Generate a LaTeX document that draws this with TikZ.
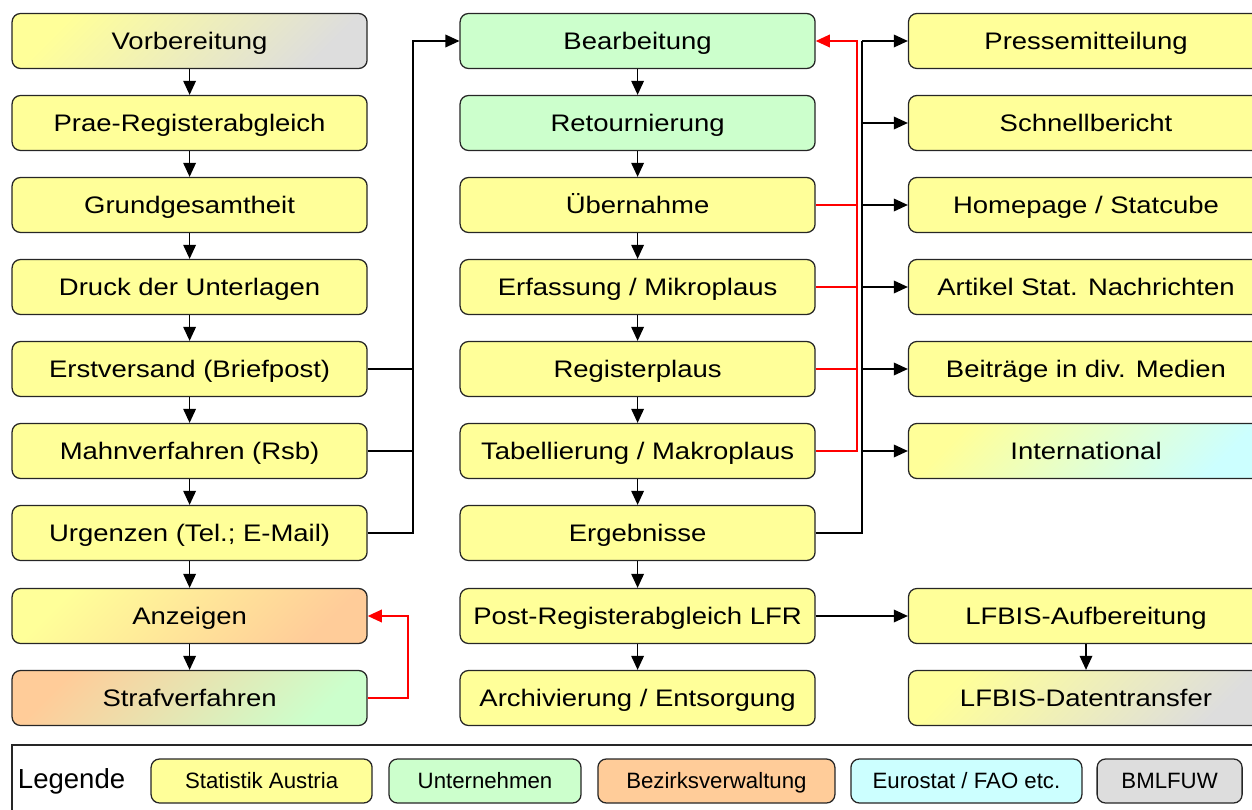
\documentclass[tikz,border=0pt]{standalone}
\usepackage{fontspec}
\setmainfont{Liberation Sans}
\newfontfamily\boxfont{Liberation Sans}[FakeStretch=1.15]
\usetikzlibrary{arrows.meta,positioning}
\definecolor{saYellow}{HTML}{FFFF99}
\definecolor{unGreen}{HTML}{CCFFCC}
\definecolor{bvOrange}{HTML}{FFCC99}
\definecolor{euCyan}{HTML}{CCFFFF}
\definecolor{bmGray}{HTML}{DDDDDD}

\begin{document}
\begin{tikzpicture}[
    box/.style={draw=black!85, line width=0.9pt, rounded corners=6pt,
        minimum width=8.875cm, minimum height=1.375cm, fill=saYellow,
        text height=12.2pt, text depth=0pt,
        font={\boxfont\fontsize{17}{20}\selectfont}},
    legbox/.style={draw=black!85, line width=0.9pt, rounded corners=6pt,
        minimum height=1.1cm, text height=11.3pt, text depth=0pt,
        font={\fontsize{15.8}{18}\selectfont}},
    conn/.style={line width=1pt, -{Triangle[length=10pt,width=9pt]}},
    redconn/.style={red, line width=1pt, -{Triangle[length=10pt,width=9pt]}}
]
    \useasboundingbox (0,0) rectangle (31.3,20.225);

    % left column
    \node[box, top color=saYellow, bottom color=bmGray, shading angle=45] (vorb) at (4.74,19.2) {Vorbereitung};
    \node[box] (prae)  at (4.74,17.15) {Prae-Registerabgleich};
    \node[box] (grund) at (4.74,15.1)  {Grundgesamtheit};
    \node[box] (druck) at (4.74,13.05) {Druck der Unterlagen};
    \node[box] (erst)  at (4.74,11.0)  {Erstversand (Briefpost)};
    \node[box] (mahn)  at (4.74,8.95)  {Mahnverfahren (Rsb)};
    \node[box] (urg)   at (4.74,6.9)   {Urgenzen (Tel.; E-Mail)};
    \node[box, top color=saYellow, bottom color=bvOrange, shading angle=45] (anz) at (4.74,4.825) {Anzeigen};
    \node[box, top color=bvOrange, bottom color=unGreen, shading angle=45] (straf) at (4.74,2.775) {Strafverfahren};

    % middle column
    \node[box, fill=unGreen] (bearb)  at (15.94,19.2)  {Bearbeitung};
    \node[box, fill=unGreen] (retour) at (15.94,17.15) {Retournierung};
    \node[box] (ueber)   at (15.94,15.1)  {Übernahme};
    \node[box] (erfass)  at (15.94,13.05) {Erfassung / Mikroplaus};
    \node[box] (regpl)   at (15.94,11.0)  {Registerplaus};
    \node[box] (tabel)   at (15.94,8.95)  {Tabellierung / Makroplaus};
    \node[box] (ergeb)   at (15.94,6.9)   {Ergebnisse};
    \node[box] (postreg) at (15.94,4.825) {Post-Registerabgleich LFR};
    \node[box] (archiv)  at (15.94,2.775) {Archivierung / Entsorgung};

    % right column
    \node[box] (presse)  at (27.15,19.2)  {Pressemitteilung};
    \node[box] (schnell) at (27.15,17.15) {Schnellbericht};
    \node[box] (homep)   at (27.15,15.1)  {Homepage / Statcube};
    \node[box] (artikel) at (27.15,13.05) {Artikel Stat. Nachrichten};
    \node[box] (beitr)   at (27.15,11.0)  {Beiträge in div. Medien};
    \node[box, top color=saYellow, bottom color=euCyan, shading angle=45] (intl) at (27.15,8.95) {International};
    \node[box] (lfbisauf) at (27.15,4.825) {LFBIS-Aufbereitung};
    \node[box, top color=saYellow, bottom color=bmGray, shading angle=45] (lfbisdat) at (27.15,2.775) {LFBIS-Datentransfer};

    % arrows down the columns
    \foreach \a/\b in {vorb/prae, prae/grund, grund/druck, druck/erst, erst/mahn, mahn/urg, urg/anz, anz/straf,
        bearb/retour, retour/ueber, ueber/erfass, erfass/regpl, regpl/tabel, tabel/ergeb, ergeb/postreg, postreg/archiv,
        lfbisauf/lfbisdat}
        \draw[conn] (\a) -- (\b);

    % Versand -> Bearbeitung
    \coordinate (lbus) at (10.325,19.2);
    \draw[conn] (urg.east) -| (lbus) -- (bearb.west);
    \draw[line width=1pt] (erst.east) -- (erst.east -| lbus);
    \draw[line width=1pt] (mahn.east) -- (mahn.east -| lbus);

    % Strafverfahren -> Anzeigen
    \coordinate (sturn) at (10.2,4.825);
    \draw[redconn] (straf.east) -| (sturn) -- (anz.east);

    % Rueckfluss zur Bearbeitung
    \coordinate (rbus) at (21.425,19.2);
    \draw[redconn] (tabel.east) -| (rbus) -- (bearb.east);
    \foreach \n in {ueber, erfass, regpl}
        \draw[red, line width=1pt] (\n.east) -- (\n.east -| rbus);

    % Ergebnisse -> Verbreitung
    \coordinate (bbus) at (21.55,19.2);
    \draw[line width=1.8pt] (ergeb.east) -| (bbus);
    \foreach \n in {presse, schnell, homep, artikel, beitr, intl}
        \draw[conn] (\n.west -| bbus) -- (\n.west);
    \draw[conn] (postreg) -- (lfbisauf);

    % Legende
    \draw[line width=0.9pt, draw=black!85] (0.3,1.6) rectangle (32,-1);
    \node[font={\fontsize{19.6}{22}\selectfont}] (legtitle) at (1.79,0.7) {Legende};
    \node[legbox, fill=saYellow, minimum width=5.525cm] (legsa)  at (6.54,0.7)  {Statistik Austria};
    \node[legbox, fill=unGreen,  minimum width=4.8cm]   (legunt) at (12.125,0.7) {Unternehmen};
    \node[legbox, fill=bvOrange, minimum width=5.925cm] (legbez) at (17.91,0.7) {Bezirksverwaltung};
    \node[legbox, fill=euCyan,   minimum width=5.775cm] (legeur) at (24.16,0.7) {Eurostat / FAO etc.};
    \node[legbox, fill=bmGray,   minimum width=3.625cm] (legbml) at (29.24,0.7) {BMLFUW};
\end{tikzpicture}
\end{document}
